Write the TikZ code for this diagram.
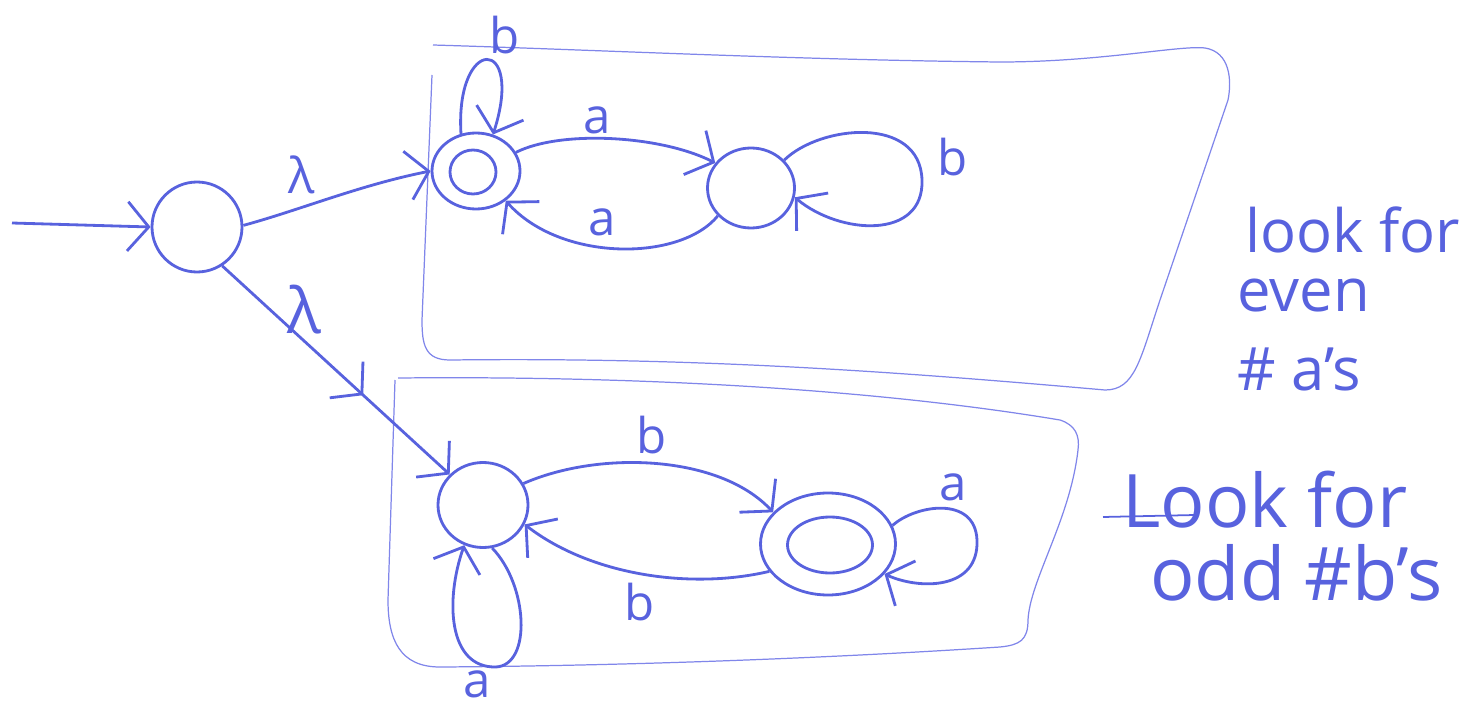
\documentclass[tikz,border=0pt]{standalone}
\usepackage{fontspec}
\setmainfont{Open Sans}
\usetikzlibrary{arrows.meta,shapes.geometric,decorations.markings}
\definecolor{pen}{RGB}{88,98,222}
\definecolor{pale}{RGB}{128,134,234}
\begin{document}
\begin{tikzpicture}[x=0.2mm,y=-0.2mm,
  state/.style={ellipse,draw=pen,line width=1.6pt,inner sep=0pt},
  barb/.style={-{Straight Barb[length=12pt,width=28pt]}},
  edge/.style={draw=pen,line width=1.6pt,barb},
  midarrow/.style={postaction={decorate},decoration={markings,
      mark=at position #1 with {\arrow[pen,line width=1.6pt]{Straight Barb[length=12pt,width=28pt]}}}},
  boxline/.style={draw=pale,line width=0.7pt},
  lbl/.style={text=pen,font=\fontsize{28}{30}\selectfont,inner sep=0pt},
  note/.style={text=pen,inner sep=0pt,anchor=base west}]
\useasboundingbox (0,0) rectangle (1471,707);

% boxes
\draw[boxline] (433,45) .. controls (600,50) and (800,60) .. (1000,62)
  .. controls (1100,62) and (1180,45) .. (1205,48)
  .. controls (1230,52) and (1232,80) .. (1228,100)
  -- (1160,300) .. controls (1140,360) and (1135,390) .. (1105,390)
  .. controls (900,372) and (700,357) .. (450,360)
  .. controls (425,360) and (422,345) .. (422,320) -- (432,75);
\draw[boxline] (398,378) .. controls (600,376) and (850,385) .. (1060,420)
  .. controls (1075,425) and (1080,435) .. (1078,450)
  .. controls (1070,520) and (1030,580) .. (1028,620)
  .. controls (1028,640) and (1020,645) .. (1000,647)
  .. controls (800,660) and (600,666) .. (440,667)
  .. controls (400,667) and (388,640) .. (388,600) -- (395,380);

% states
\node[state,minimum width=18mm,minimum height=18mm] (q0) at (197,227) {};
\node[state,minimum width=17.6mm,minimum height=15.2mm] (q1) at (476,171) {};
\node[state,minimum width=9.2mm,minimum height=8.8mm] (q1in) at (473,172) {};
\node[state,minimum width=17.4mm,minimum height=16mm] (q2) at (751,188) {};
\node[state,minimum width=18mm,minimum height=17mm] (q3) at (483,505) {};
\node[state,minimum width=27mm,minimum height=20.4mm] (q4) at (828,544) {};
\node[state,minimum width=17mm,minimum height=11.2mm] (q4in) at (830,545) {};

% start and lambda edges
\coordinate (start) at (12,223);
\draw[edge] (start) -- (q0.west);
\draw[edge] (q0.2) .. controls (300,210) and (360,185) .. (q1.west);
\node[lbl] (l1) at (302,175) {λ};
\draw[edge,midarrow=0.62] (q0.-57) -- (q3);
\node[lbl,font=\fontsize{36}{40}\selectfont] (l2) at (304,310) {λ};

% top automaton
\draw[edge] (q1.112) .. controls (455,35) and (525,35) .. (q1.65);
\node[lbl] (lb1) at (505,35) {b};
\draw[edge] (q1.25) .. controls (560,130) and (660,135) .. (q2.145);
\node[lbl] (la1) at (597,120) {a};
\draw[edge] (q2.-140) .. controls (680,262) and (560,262) .. (q1.-45);
\node[lbl] (la2) at (602,222) {a};
\draw[edge] (q2.40) .. controls (820,125) and (920,115) .. (922,180)
  .. controls (924,240) and (840,235) .. (q2.-12);
\node[lbl] (lb2) at (953,157) {b};

% bottom automaton
\draw[edge] (q3.28) .. controls (600,450) and (720,455) .. (q4.150);
\node[lbl] (lb3) at (652,435) {b};
\draw[edge] (q4.205) .. controls (690,590) and (590,575) .. (q3.-25);
\node[lbl] (lb4) at (640,602) {b};
\draw[edge] (q3.-78) .. controls (528,585) and (532,665) .. (496,667)
  .. controls (448,668) and (445,600) .. (q3.-115);
\node[lbl] (la3) at (477,684) {a};
\draw[edge] (q4.16) .. controls (915,505) and (975,495) .. (977,540)
  .. controls (979,590) and (920,590) .. (q4.-28);
\node[lbl] (la4) at (953,487) {a};

% notes
\node[note,font=\fontsize{34}{40}\selectfont] (t1) at (1245,252) {look for};
\node[note,font=\fontsize{34}{40}\selectfont] (t2) at (1237,312) {even};
\node[note,font=\fontsize{34}{40}\selectfont] (t3) at (1237,390) {\# a's};
\node[note,font=\fontsize{42}{48}\selectfont] (t4) at (1122,527) {Look for};
\node[note,font=\fontsize{42}{48}\selectfont] (t5) at (1150,600) {odd \#b's};
\draw[draw=pen,line width=1pt] (1103,517) -- (1195,515);
\end{tikzpicture}
\end{document}
